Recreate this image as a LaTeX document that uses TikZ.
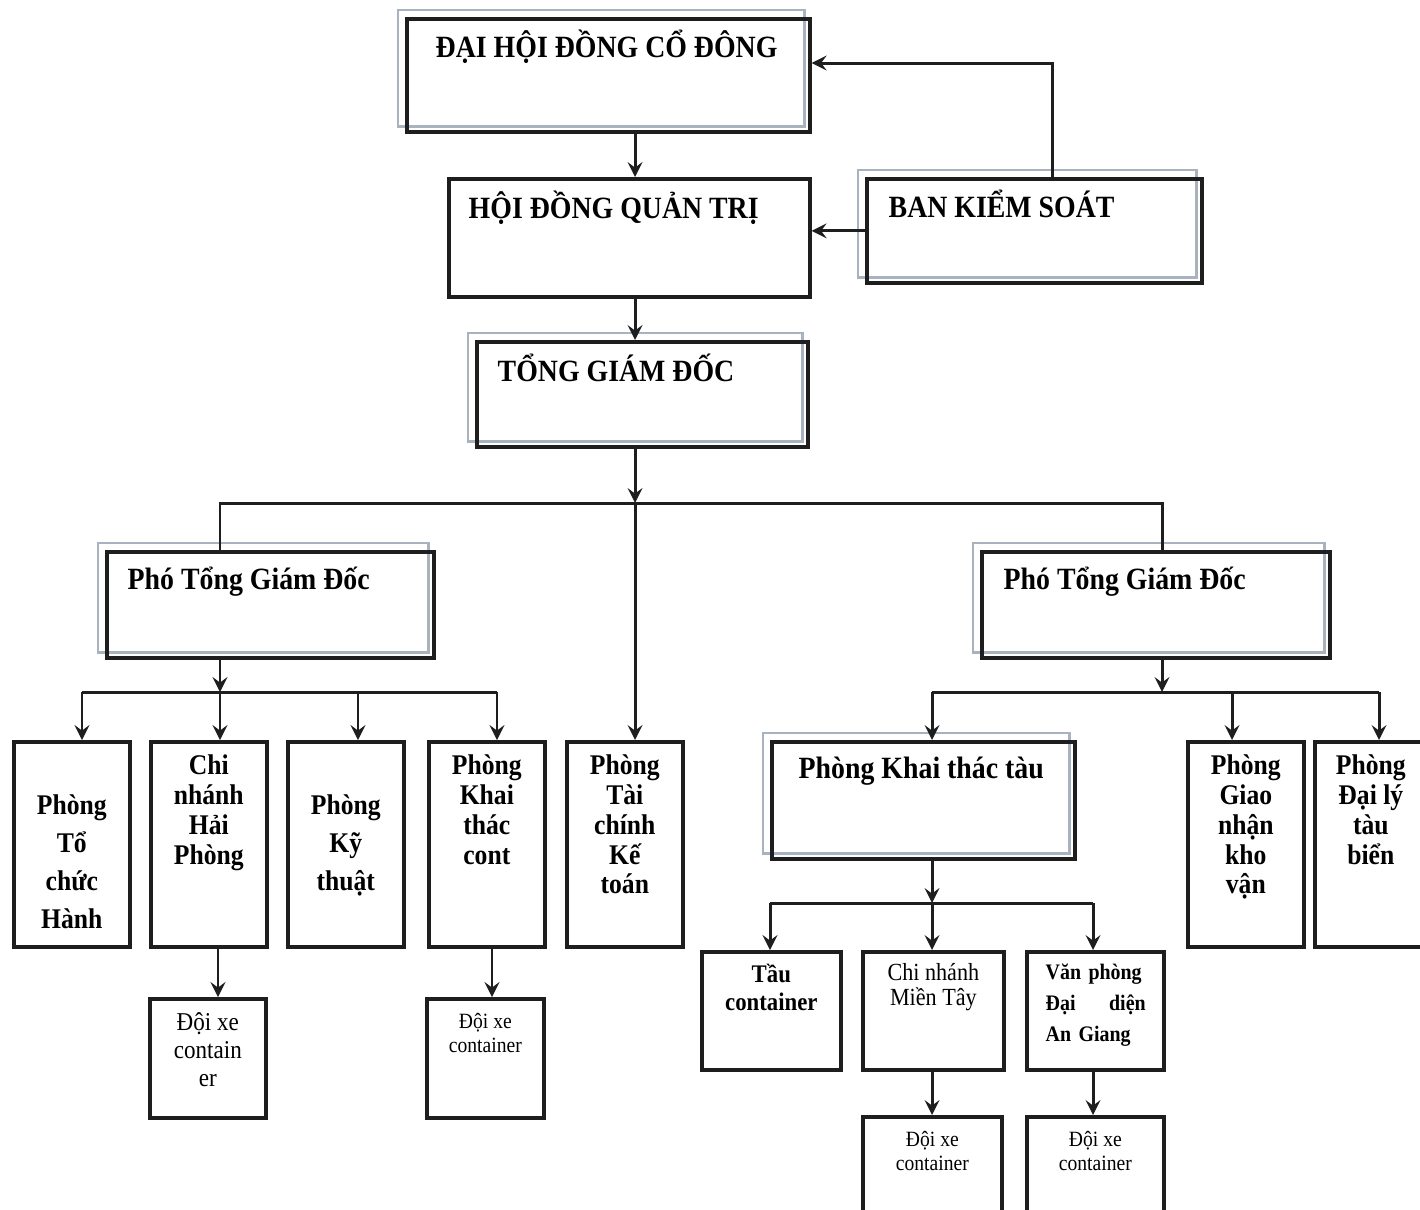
\documentclass[tikz,border=0pt]{standalone}
\usepackage{fontspec}
\setmainfont{Liberation Serif}[FakeStretch=0.9]
\usetikzlibrary{positioning,calc,backgrounds}
\setlength{\lineskiplimit}{-10pt}
\definecolor{ink}{HTML}{1E1E1E}
\definecolor{ghostline}{HTML}{A9B3C0}
\def\deptwidth{1.16cm}
\def\deptheight{2.05cm}
\def\depttop{-7.40}
\def\subbus{-6.92}

\tikzset{
  unitbox/.style={draw=ink, line width=1.05pt, inner sep=0pt, anchor=north west},
  title/.style={anchor=base west, inner sep=0pt, font=\bfseries\fontsize{8.8}{10}\selectfont},
  dept/.style={anchor=north, inner sep=0pt, align=center, font=\bfseries\fontsize{8.1}{8.5}\selectfont},
  deptwide/.style={dept, font=\bfseries\fontsize{8.1}{10.8}\selectfont},
  smallbold/.style={anchor=north, inner sep=0pt, align=center, font=\bfseries\fontsize{7.2}{8.2}\selectfont},
  smallplain/.style={anchor=north, inner sep=0pt, align=center, font=\fontsize{6.2}{6.8}\selectfont},
  link/.style={draw=ink, line width=0.85pt},
  linkarrow/.style={link, -stealth},
  ghost/.style={draw=ghostline, line width=0.7pt},
}

\begin{document}
\begin{tikzpicture}
  \useasboundingbox (0,0) rectangle (14.2,-12.09);

  % top level
  \node[unitbox, minimum width=4.03cm, minimum height=1.13cm] (dhd) at (4.05,-0.17) {};
  \node[unitbox, minimum width=3.61cm, minimum height=1.18cm] (hdqt) at (4.47,-1.77) {};
  \node[unitbox, minimum width=3.35cm, minimum height=1.04cm] (bks) at (8.65,-1.77) {};
  \node[unitbox, minimum width=3.31cm, minimum height=1.05cm] (tgd) at (4.75,-3.40) {};

  \node[title] (dhd-text) at ($ (dhd.north west) + (0.30,-0.40) $) {ĐẠI HỘI ĐỒNG CỔ ĐÔNG};
  \node[title] (hdqt-text) at ($ (hdqt.north west) + (0.21,-0.41) $) {HỘI ĐỒNG QUẢN TRỊ};
  \node[title] (bks-text) at ($ (bks.north west) + (0.23,-0.40) $) {BAN KIỂM SOÁT};
  \node[title] (tgd-text) at ($ (tgd.north west) + (0.22,-0.41) $) {TỔNG GIÁM ĐỐC};

  \coordinate (trunk) at (6.35,0);
  \draw[linkarrow] (trunk |- dhd.south) -- (trunk |- hdqt.north);
  \draw[linkarrow] (trunk |- hdqt.south) -- (trunk |- tgd.north);

  \coordinate (bksup) at (10.52,-0.63);
  \draw[linkarrow] (bksup |- bks.north) -- (bksup) -- (bksup -| dhd.east);
  \draw[linkarrow] (bks.west) -- (bks.west -| hdqt.east);

  % deputies
  \node[unitbox, minimum width=3.27cm, minimum height=1.06cm] (pgdL) at (1.05,-5.50) {};
  \node[unitbox, minimum width=3.48cm, minimum height=1.06cm] (pgdR) at (9.80,-5.50) {};
  \node[title] (pgdL-text) at ($ (pgdL.north west) + (0.22,-0.39) $) {Phó Tổng Giám Đốc};
  \node[title] (pgdR-text) at ($ (pgdR.north west) + (0.23,-0.39) $) {Phó Tổng Giám Đốc};

  % departments
  \foreach \n/\x in {ptc/0.12, cnhp/1.49, pkt/2.86, pktc/4.27, ptckt/5.65, pgn/11.86}
    \node[unitbox, minimum width=\deptwidth, minimum height=\deptheight] (\n) at (\x,\depttop) {};
  \node[unitbox, minimum width=1.12cm, minimum height=\deptheight] (pdl) at (13.13,\depttop) {};
  \node[unitbox, minimum width=3.03cm, minimum height=1.17cm] (pktt) at (7.70,\depttop) {};

  \node[deptwide] (ptc-text) at ($ (ptc.north) + (0,-0.54) $) {Phòng\\Tổ\\chức\\Hành};
  \node[dept] (cnhp-text) at ($ (cnhp.north) + (0,-0.14) $) {Chi\\nhánh\\Hải\\Phòng};
  \node[deptwide] (pkt-text) at ($ (pkt.north) + (0,-0.54) $) {Phòng\\Kỹ\\thuật};
  \node[dept] (pktc-text) at ($ (pktc.north) + (0,-0.14) $) {Phòng\\Khai\\thác\\cont};
  \node[dept] (ptckt-text) at ($ (ptckt.north) + (0,-0.14) $) {Phòng\\Tài\\chính\\Kế\\toán};
  \node[dept] (pgn-text) at ($ (pgn.north) + (0,-0.14) $) {Phòng\\Giao\\nhận\\kho\\vận};
  \node[dept] (pdl-text) at ($ (pdl.north) + (0,-0.14) $) {Phòng\\Đại lý\\tàu\\biển};
  \node[title] (pktt-text) at ($ (pktt.north west) + (0.28,-0.38) $) {Phòng Khai thác tàu};

  \coordinate (busL) at (2.20,-5.03);
  \coordinate (busR) at (11.62,-5.03);
  \draw[linkarrow] (trunk |- tgd.south) -- (trunk |- busL);
  \draw[linkarrow] (trunk |- busL) -- (trunk |- ptckt.north);
  \draw[link] (busL |- pgdL.north) -- (busL) -- (busR) -- (busR |- pgdR.north);

  \draw[linkarrow] (busL |- pgdL.south) -- (busL |- 0,\subbus);
  \foreach \n/\x in {ptc/0.82, cnhp/2.20, pkt/3.58, pktc/4.97, pktt/9.32, pgn/12.32, pdl/13.79}{
    \coordinate (drop\n) at (\x,\subbus);
    \draw[linkarrow] (drop\n) -- (drop\n |- \n.north);
  }
  \draw[link] (dropptc) -- (droppktc);
  \draw[linkarrow] (busR |- pgdR.south) -- (busR |- 0,\subbus);
  \draw[link] (droppktt) -- (droppdl);

  % lower units
  \node[unitbox, minimum width=1.16cm, minimum height=1.19cm] (dxL) at (1.48,-9.97) {};
  \node[unitbox, minimum width=1.17cm, minimum height=1.19cm] (dxC) at (4.25,-9.97) {};
  \node[unitbox, minimum width=1.39cm, minimum height=1.18cm] (tc) at (7.00,-9.50) {};
  \node[unitbox, minimum width=1.41cm, minimum height=1.18cm] (cnmt) at (8.61,-9.50) {};
  \node[unitbox, minimum width=1.37cm, minimum height=1.18cm] (vpdd) at (10.25,-9.50) {};
  \node[unitbox, minimum width=1.39cm, minimum height=1.00cm] (dxR) at (8.61,-11.15) {};
  \node[unitbox, minimum width=1.37cm, minimum height=1.00cm] (dxAG) at (10.25,-11.15) {};

  \node[smallplain, font=\fontsize{7.3}{8}\selectfont] (dxL-text) at ($ (dxL.north) + (0,-0.15) $) {Đội xe\\contain\\er};
  \node[smallplain] (dxC-text) at ($ (dxC.north) + (0,-0.16) $) {Đội xe\\container};
  \node[smallbold] (tc-text) at ($ (tc.north) + (0,-0.13) $) {Tầu\\container};
  \node[smallplain, font=\fontsize{7}{7}\selectfont] (cnmt-text) at ($ (cnmt.north) + (0,-0.13) $) {Chi nhánh\\Miền Tây};
  \node[smallbold, anchor=north west, align=left, text width=1.0cm, font=\bfseries\fontsize{6.3}{8.8}\selectfont] (vpdd-text) at ($ (vpdd.north west) + (0.2,-0.13) $) {\mbox{Văn phòng}\\Đại \hfill diện\\An Giang};
  \node[smallplain] (dxR-text) at ($ (dxR.north) + (0,-0.16) $) {Đội xe\\container};
  \node[smallplain] (dxAG-text) at ($ (dxAG.north) + (0,-0.16) $) {Đội xe\\container};

  \coordinate (dropdxL) at (2.18,0);
  \coordinate (dropdxC) at (4.92,0);
  \draw[linkarrow] (dropdxL |- cnhp.south) -- (dropdxL |- dxL.north);
  \draw[linkarrow] (dropdxC |- pktc.south) -- (dropdxC |- dxC.north);

  \coordinate (subT) at (9.32,-9.03);
  \draw[linkarrow] (subT |- pktt.south) -- (subT);
  \foreach \n/\x in {tc/7.70, cnmt/9.32, vpdd/10.93}{
    \coordinate (drop\n) at (\x,-9.03);
    \draw[linkarrow] (drop\n) -- (drop\n |- \n.north);
  }
  \draw[link] (droptc) -- (dropvpdd);
  \draw[linkarrow] (dropcnmt |- cnmt.south) -- (dropcnmt |- dxR.north);
  \draw[linkarrow] (dropvpdd |- vpdd.south) -- (dropvpdd |- dxAG.north);

  \begin{scope}[on background layer]
    \foreach \n in {dhd,bks,tgd,pgdL,pgdR,pktt}
      \draw[ghost] ($ (\n.north west) + (-0.07,0.07) $) rectangle ($ (\n.south east) + (-0.07,0.07) $);
  \end{scope}

\end{tikzpicture}
\end{document}
